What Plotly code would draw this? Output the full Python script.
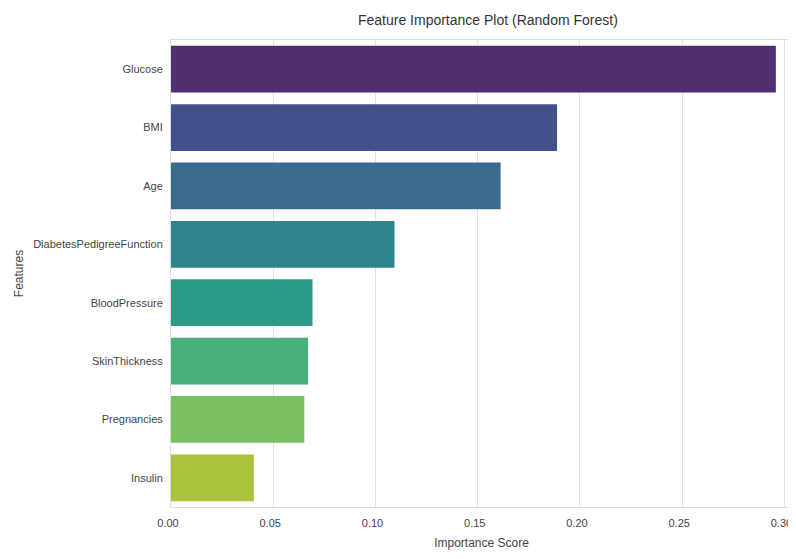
import plotly.graph_objects as go

features = ["Glucose", "BMI", "Age", "DiabetesPedigreeFunction", "BloodPressure",
            "SkinThickness", "Pregnancies", "Insulin"]
importance = [0.2958, 0.1888, 0.1612, 0.1093, 0.0692, 0.0670, 0.0652, 0.0405]
colors = ["#4f2f70", "#44508a", "#3a6a8c", "#2f848c", "#2a9b85", "#48b07a", "#78c061", "#a8c43c"]
xticks = [0.00, 0.05, 0.10, 0.15, 0.20, 0.25, 0.30]
xtick_text = ["0.00", "0.05", "0.10", "0.15", "0.20", "0.25", "0.30"]

fig = go.Figure(go.Bar(
    x=importance, y=features, orientation="h",
    marker=dict(color=colors, line=dict(width=0)),
    width=0.8,
))

font = "Liberation Sans, Arial, sans-serif"
fig.update_layout(
    width=788, height=551,
    margin=dict(l=163, r=4, t=32, b=52),
    paper_bgcolor="white", plot_bgcolor="white",
    title=dict(text="Feature Importance Plot (Random Forest)", x=0.609, xanchor="center",
               y=0.978, yanchor="middle", font=dict(family=font, size=14, color="#333333")),
    font=dict(family=font, size=11, color="#444444"),
    showlegend=False,
    bargap=0.2,
)
fig.update_xaxes(
    range=[0, 0.3037], tickvals=xticks, ticktext=xtick_text, automargin=False,
    showgrid=True, gridcolor="#e3e3e3", gridwidth=1,
    showline=True, linecolor="#dddddd", mirror=True, zeroline=False,
    ticks="", ticklen=0, ticklabelstandoff=6, ticklabelshift=-3,
    title=dict(text="Importance Score", font=dict(family=font, size=12, color="#444444"), standoff=10),
    tickfont=dict(size=11, color="#444444"),
)
fig.update_yaxes(
    categoryorder="array", categoryarray=features, autorange="reversed", automargin=False,
    showgrid=False, showline=True, linecolor="#dddddd", mirror=True, zeroline=False,
    ticks="", ticklabelstandoff=5,
    title=dict(text="Features", font=dict(family=font, size=12, color="#444444"), standoff=6),
    tickfont=dict(size=11, color="#444444"),
)
fig.write_html("out.html")
